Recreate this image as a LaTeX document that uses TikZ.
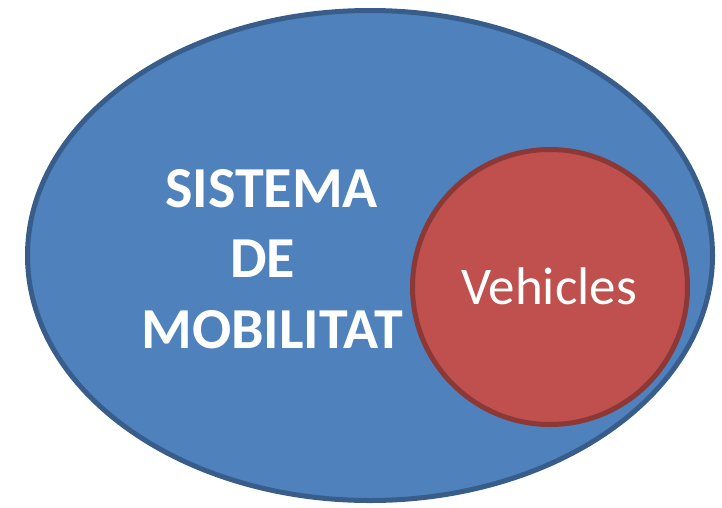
\documentclass[tikz,border=0pt]{standalone}
\usepackage{fontspec}
\setmainfont{Carlito}
\definecolor{blueFill}{HTML}{4F81BD}
\definecolor{blueLine}{HTML}{385D8A}
\definecolor{redFill}{HTML}{C0504D}
\definecolor{redLine}{HTML}{8C3836}
\tikzset{
  bigtext/.style={text=white,font=\fontsize{58}{62}\selectfont\bfseries,anchor=base,inner sep=0pt},
  smalltext/.style={text=white,font=\fontsize{53}{58}\selectfont,anchor=base,inner sep=0pt}
}
\begin{document}
\begin{tikzpicture}[x=1pt,y=-1pt]
\useasboundingbox (0,0) rectangle (722,507);
\path[fill=blueFill,draw=blueLine,line width=5pt] (370,255.5) ellipse [x radius=342.5,y radius=245];
\path[fill=redFill,draw=redLine,line width=5pt] (550,287) circle [radius=137.5];
\node[bigtext] (l1) at (271.5,207) {SISTEMA};
\node[bigtext] (l2) at (262.5,277) {DE};
\node[bigtext] (l3) at (272,348) {MOBILITAT};
\node[smalltext] (veh) at (549,304) {Vehicles};
\end{tikzpicture}
\end{document}
